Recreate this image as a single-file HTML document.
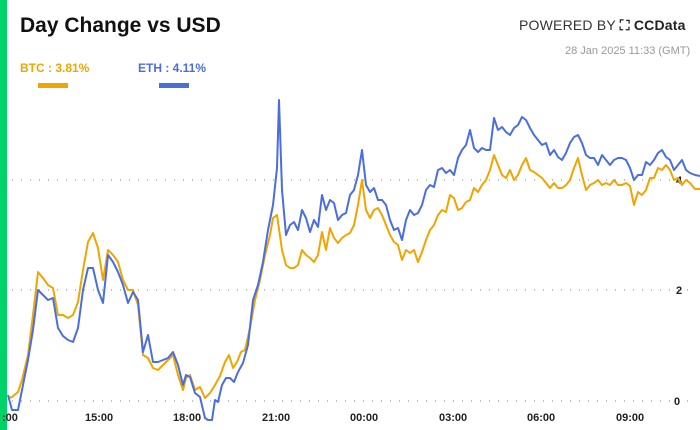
<!DOCTYPE html>
<html><head><style>
body{margin:0;width:700px;height:430px;overflow:hidden;background:#fff;font-family:"Liberation Sans",sans-serif;position:relative}
.bar{position:absolute;left:0;top:0;width:7px;height:430px;background:#00d26a}
.t{position:absolute;white-space:nowrap}
</style></head><body>
<div class="bar"></div>
<div class="t" style="left:20px;top:14px;font-size:21px;font-weight:bold;color:#111;">Day Change vs USD</div>
<div class="t" style="left:519px;top:17px;font-size:14px;color:#333;letter-spacing:0.2px">POWERED BY <b style="color:#222">⛶ CCData</b></div>
<div class="t" style="left:565px;top:45px;font-size:11px;color:#999;">28 Jan 2025 11:33 (GMT)</div>
<div class="t" style="left:20px;top:61px;font-size:12px;font-weight:bold;color:#f0a500;">BTC : 3.81%</div>
<div class="t" style="left:138px;top:61px;font-size:12px;font-weight:bold;color:#4a6ee0;">ETH : 4.11%</div>
<div style="position:absolute;left:38px;top:83px;width:30px;height:5px;background:#f0a500"></div>
<div style="position:absolute;left:159px;top:83px;width:30px;height:5px;background:#4a6ee0"></div>
<svg width="700" height="430" style="position:absolute;left:0;top:0">
<g stroke="#999" stroke-width="1.2" stroke-dasharray="1 8">
<line x1="12" y1="180" x2="690" y2="180"/><line x1="12" y1="290" x2="690" y2="290"/><line x1="12" y1="401" x2="690" y2="401"/>
</g>
<g font-size="11" fill="#222" font-weight="bold" font-family="Liberation Sans,sans-serif">
<text x="676" y="184">4</text><text x="676" y="294">2</text><text x="674" y="405">0</text>
<text x="2" y="421">:00</text><text x="85" y="421">15:00</text><text x="173" y="421">18:00</text><text x="262" y="421">21:00</text><text x="350" y="421">00:00</text><text x="439" y="421">03:00</text><text x="527" y="421">06:00</text><text x="616" y="421">09:00</text>
</g>
<polyline fill="none" stroke="#f0a500" stroke-width="2" stroke-linejoin="round" points="8,398 12,397 18,392 22,380 28,355 33,315 38,272 43,278 48,285 53,288 58,315 63,315 68,318 73,315 78,302 83,270 88,242 93,233 98,248 103,280 108,250 113,255 118,262 123,280 128,290 133,290 138,305 143,355 148,358 153,368 158,370 163,365 168,360 173,355 178,375 183,390 186,378 190,375 195,390 200,387 205,398 210,393 215,385 220,376 225,362 229,355 233,368 237,362 241,352 245,350 250,328 255,300 260,280 265,255 270,235 273,218 277,215 282,250 286,265 290,268 294,268 298,265 302,250 306,255 310,258 314,262 318,255 322,232 326,250 330,228 334,238 338,243 342,238 346,235 350,233 354,225 358,205 362,180 366,210 370,218 374,210 378,208 382,215 386,225 390,235 394,242 398,245 402,260 406,250 410,253 414,250 418,262 422,252 426,240 430,230 434,225 438,215 442,210 446,212 450,195 454,198 458,210 462,208 466,202 470,200 474,188 478,192 482,185 486,180 490,170 494,155 498,165 502,175 506,178 510,170 514,180 518,175 522,165 526,158 530,170 534,172 538,175 542,178 546,183 550,188 554,183 558,188 562,188 566,185 570,180 574,168 578,158 582,175 586,190 590,185 594,183 598,180 602,185 606,183 610,185 614,180 618,185 622,185 626,183 630,186 634,205 638,192 642,195 646,190 650,178 654,178 658,168 662,170 666,165 670,170 674,180 678,178 682,185 686,180 690,183 695,189 700,189"/>
<polyline fill="none" stroke="#4a6ee0" stroke-width="2" stroke-linejoin="round" points="8,395 12,410 18,410 22,390 28,360 33,330 38,290 43,295 48,300 53,298 58,328 63,336 68,340 73,342 78,328 83,290 88,268 93,268 98,290 103,303 108,255 113,262 118,272 123,285 128,303 133,292 138,300 143,352 148,335 153,362 158,362 163,360 168,358 173,352 178,365 183,385 186,375 190,377 195,393 200,397 205,418 208,420 212,420 215,400 218,402 222,385 226,378 230,378 234,382 238,372 243,363 248,345 253,300 258,285 263,262 268,230 273,205 277,168 279,100 282,190 286,235 290,225 294,222 298,230 302,210 306,218 310,232 314,220 318,227 322,195 326,210 330,200 334,203 338,220 342,215 346,213 350,195 354,190 358,175 362,150 366,185 370,192 374,188 378,200 382,200 386,205 390,220 394,230 398,228 402,240 406,220 410,210 414,215 418,213 422,205 426,190 430,185 434,187 438,170 442,168 446,173 450,170 454,175 458,158 462,150 466,145 470,130 474,148 478,152 482,148 486,150 490,150 494,118 498,130 502,127 506,132 510,135 514,128 518,125 522,117 526,120 530,128 534,135 538,140 542,145 546,143 550,155 554,150 558,157 562,160 566,153 570,143 574,137 578,135 582,143 586,155 590,158 594,158 598,165 602,155 606,160 610,165 614,160 618,158 622,158 626,160 630,168 634,180 638,175 642,175 646,162 650,165 654,160 658,153 662,150 666,157 670,160 674,170 678,165 682,160 686,170 690,173 695,175 700,176"/>
</svg>
</body></html>
